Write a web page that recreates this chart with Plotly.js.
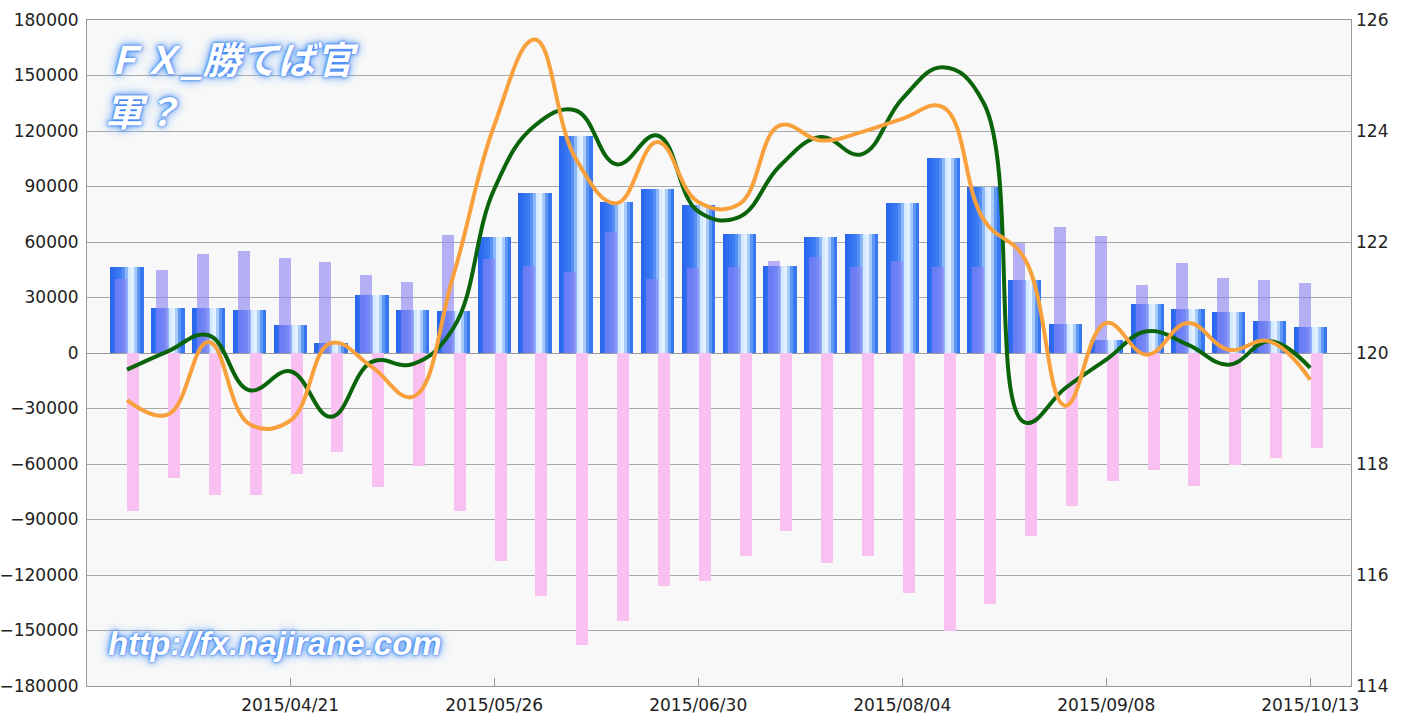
<!DOCTYPE html>
<html>
<head>
<meta charset="utf-8">
<script src="https://cdn.plot.ly/plotly-3.0.1.min.js"></script>
<style>html,body{margin:0;padding:0;background:#fff;}#chart{width:1406px;height:717px;}</style>
</head>
<body>
<div id="chart"></div>
<script>
// ---- data ----
const weeks = ['2015-03-24','2015-03-31','2015-04-07','2015-04-14','2015-04-21','2015-04-28','2015-05-05','2015-05-12','2015-05-19','2015-05-26',
               '2015-06-02','2015-06-09','2015-06-16','2015-06-23','2015-06-30','2015-07-07','2015-07-14','2015-07-21','2015-07-28','2015-08-04',
               '2015-08-11','2015-08-18','2015-08-25','2015-09-01','2015-09-08','2015-09-15','2015-09-22','2015-09-29','2015-10-06','2015-10-13'];
const netPos = [46400,24400,24400,23500,14900,5500,31100,23500,22500,62700,
                86700,117300,81800,88500,80000,64500,47300,62700,64500,80900,
                105300,90000,39200,15700,7200,26600,23900,22300,17300,13900];
const longPos = [40000,44900,53500,55100,51600,49100,42200,38200,63600,50900,
                 47300,43600,65500,40000,45800,46700,50000,51800,46700,50000,
                 46300,46300,59400,68000,63000,36700,48600,40300,39200,37600];
const shortPos = [-85500,-67500,-76900,-76900,-65400,-53700,-72600,-60900,-85500,-112200,
                  -131500,-157600,-145000,-126000,-123000,-109800,-96300,-113400,-109800,-129600,
                  -150300,-135900,-99000,-82800,-69300,-63000,-72000,-60800,-56700,-51300];
const greenLine = [119.70,120.03,120.32,119.33,119.67,118.85,119.84,119.80,120.45,122.95,
                   124.10,124.37,123.40,123.92,122.55,122.45,123.37,123.89,123.58,124.58,
                   125.15,124.50,118.75,119.37,119.88,120.39,120.15,119.79,120.21,119.73];
const orangeLine = [119.15,118.89,120.20,118.72,118.78,120.18,119.75,119.21,121.40,124.10,
                    125.65,123.50,122.70,123.80,122.72,122.68,124.10,123.83,123.98,124.22,
                    124.43,122.40,121.70,119.05,120.54,119.97,120.54,120.06,120.21,119.52];
const titleLine1 = 'ＦＸ_勝てば官';
const titleLine2 = '軍？';
const urlText = 'http://fx.najirane.com';

// ---- styling ----
const WEEK = 7 * 864e5;
const pxMs = WEEK / 40.8;
const blueStops = ['#2b67ec','#2f6ef0','#3575f2','#3d7cf3','#5690f5','#8cb8f9','#d6e9fe','#e4f1ff','#a9cbfa','#5f97f5','#3777f1'];
const traces = [];
blueStops.forEach((c, k) => {
  traces.push({type:'bar', x:weeks, y:netPos, yaxis:'y', width:3.3*pxMs, offset:(-16.5 + 3*k)*pxMs,
               marker:{color:c, line:{width:0}}, hoverinfo:'skip', showlegend:false});
});
traces.push({type:'bar', x:weeks, y:longPos, yaxis:'y', width:12*pxMs, offset:-11.5*pxMs,
             marker:{color:'rgba(140,130,245,0.62)', line:{width:0}}, showlegend:false});
traces.push({type:'bar', x:weeks, y:shortPos, yaxis:'y', width:12*pxMs, offset:0.5*pxMs,
             marker:{color:'#f8c1f2', line:{width:0}}, showlegend:false});
traces.push({type:'scatter', mode:'lines', x:weeks, y:greenLine, yaxis:'y2',
             line:{color:'#0a640a', width:4, shape:'spline', smoothing:1.2}, showlegend:false});
traces.push({type:'scatter', mode:'lines', x:weeks, y:orangeLine, yaxis:'y2',
             line:{color:'#f7a03c', width:4, shape:'spline', smoothing:1.2}, showlegend:false});

const yFont = {family:'"DejaVu Sans", sans-serif', size:17, color:'#222'};
const xFont = {family:'"DejaVu Sans", sans-serif', size:17, color:'#222'};
const glow = '0 0 2px #2a6ef0, 0 0 4px #3f86f0, 0 0 8px #6aa6f7, 0 0 13px #9cc6fb';
const titleFont = {family:'"Noto Sans CJK JP", sans-serif', size:38, color:'#ffffff', weight:700, style:'italic', shadow:glow};
const layout = {
  width:1406, height:717,
  margin:{l:87, r:55, t:20, b:31, pad:0},
  paper_bgcolor:'#ffffff', plot_bgcolor:'#f8f8f8',
  barmode:'overlay', bargap:0,
  showlegend:false,
  xaxis:{type:'date', range:['2015-03-17 03:20','2015-10-20'], tick0:'2015-04-21', dtick:35*864e5,
         tickformat:'%Y/%m/%d', showgrid:false, zeroline:false, showline:true, mirror:true,
         linecolor:'#999', linewidth:1, ticks:'inside', ticklen:8, tickcolor:'#999',
         tickfont:xFont, ticklabelstandoff:4},
  yaxis:{range:[-180000,180000], dtick:30000, tickformat:'d', showgrid:true, gridcolor:'#a8a8a8', gridwidth:1,
         zeroline:true, zerolinecolor:'#999', zerolinewidth:1, showline:true, mirror:true, linecolor:'#999',
         ticks:'', tickfont:yFont, ticklabelstandoff:4},
  yaxis2:{range:[114,126], dtick:2, overlaying:'y', side:'right', showgrid:false, zeroline:false,
          showline:false, ticks:'', tickfont:yFont, ticklabelstandoff:4},
  annotations:[
    {text:titleLine1, xref:'paper', yref:'paper', x:0.013, y:1-(57-20)/666, xanchor:'left', yanchor:'middle', align:'left',
     showarrow:false, font:titleFont},
    {text:titleLine2, xref:'paper', yref:'paper', x:0.013, y:1-(110-20)/666, xanchor:'left', yanchor:'middle', align:'left',
     showarrow:false, font:titleFont},
    {text:urlText, xref:'paper', yref:'paper', x:0.015, y:1-(643-20)/666, xanchor:'left', yanchor:'middle', align:'left',
     showarrow:false, font:{family:'"Liberation Sans", sans-serif', size:33, color:'#ffffff', weight:700, style:'italic', shadow:glow}}
  ]
};
Plotly.newPlot('chart', traces, layout, {displayModeBar:false, staticPlot:true});
</script>
</body>
</html>
